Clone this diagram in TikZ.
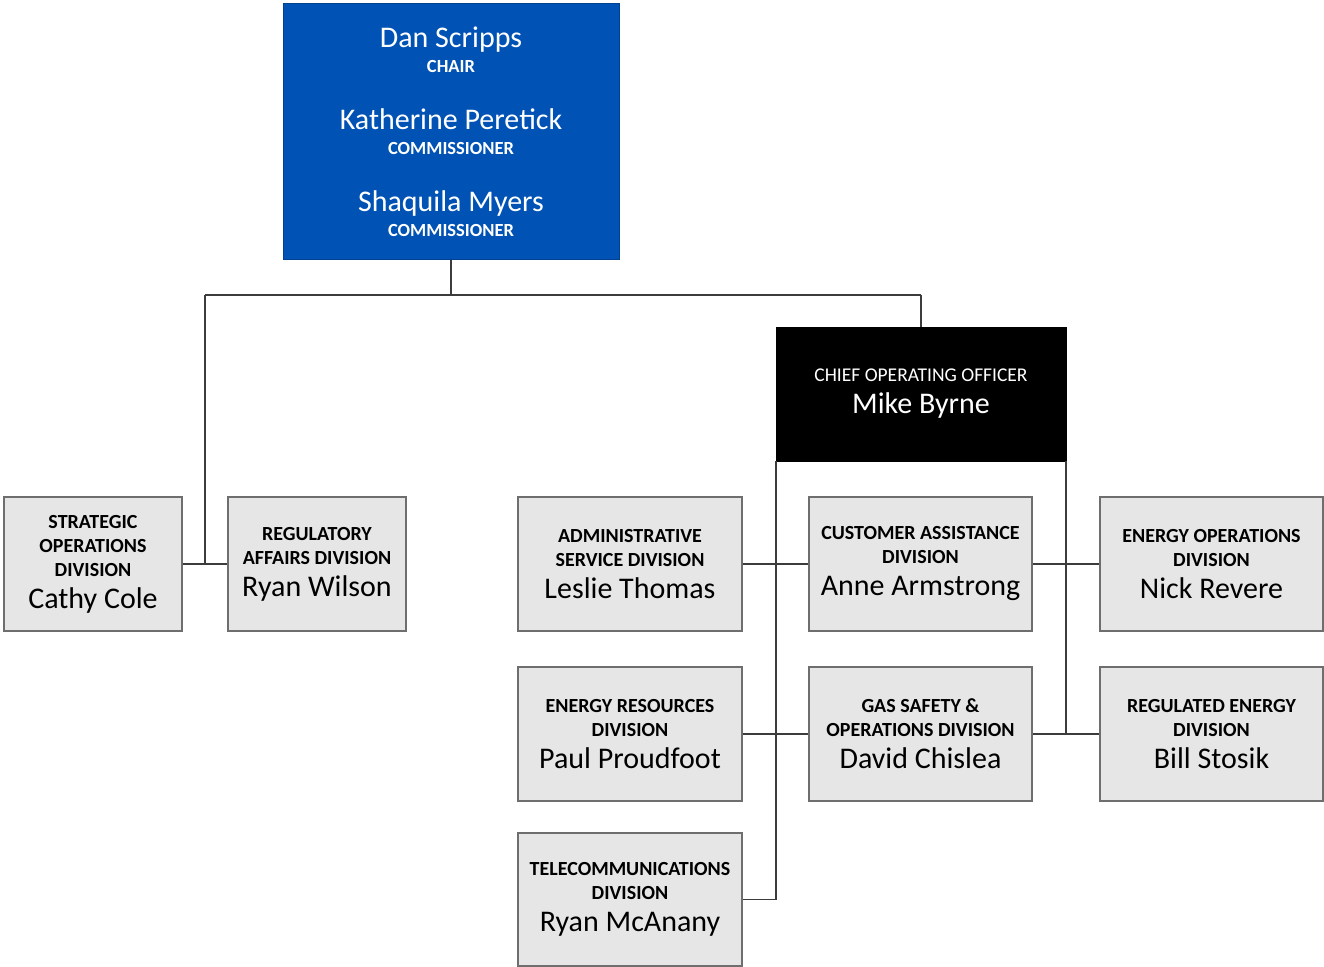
\documentclass[tikz,border=0pt]{standalone}
\usepackage{fontspec}
\setmainfont{Carlito}
\definecolor{cpucblue}{RGB}{0,82,180}
\definecolor{boxgray}{RGB}{230,230,230}
\definecolor{boxedge}{RGB}{110,110,110}
\definecolor{wire}{RGB}{60,60,60}
\newcommand{\nm}[1]{{\fontsize{30}{30}\selectfont\mdseries #1}}
\newcommand{\rl}[1]{{\fontsize{18.5}{18.5}\selectfont\bfseries #1}}
\begin{document}
\begin{tikzpicture}[x=1pt,y=-1pt,
  dept/.style={draw=boxedge, line width=1.5pt, fill=boxgray, inner sep=0pt,
    minimum height=134pt, align=center, text=black,
    font=\fontsize{20}{24}\selectfont\bfseries},
  board/.style={draw=cpucblue!80!black, line width=1pt, fill=cpucblue, inner sep=0pt,
    minimum width=336pt, minimum height=255pt, align=center, text=white,
    font=\fontsize{18}{25}\selectfont},
  coobox/.style={draw=black, fill=black, inner sep=0pt,
    minimum width=290pt, minimum height=134pt, align=center, text=white,
    font=\fontsize{19.5}{24}\selectfont},
  wirestyle/.style={draw=wire, line width=1.5pt}]
\useasboundingbox (0,0) rectangle (1324,966);

\node[board] (board) at (451,131.5) {\nm{Dan Scripps}\\\rl{CHAIR}\\[32pt]\nm{Katherine Peretick}\\\rl{COMMISSIONER}\\[32pt]\nm{Shaquila Myers}\\\rl{COMMISSIONER}};

\node[coobox] (coo) at (921,394) {CHIEF OPERATING OFFICER\\[8pt]\nm{Mike Byrne}};

\node[dept, minimum width=178pt] (strat) at (93,564) {STRATEGIC\\OPERATIONS\\DIVISION\\[8pt]\nm{Cathy Cole}};
\node[dept, minimum width=178pt] (reg) at (317,564) {REGULATORY\\AFFAIRS DIVISION\\[8pt]\nm{Ryan Wilson}};

\node[dept, minimum width=224pt] (admin) at (630,564) {ADMINISTRATIVE\\SERVICE DIVISION\\[8pt]\nm{Leslie Thomas}};
\node[dept, minimum width=223pt] (cust) at (920.5,564) {CUSTOMER ASSISTANCE\\DIVISION\\[8pt]\nm{Anne Armstrong}};
\node[dept, minimum width=223pt] (eops) at (1211.5,564) {ENERGY OPERATIONS\\DIVISION\\[8pt]\nm{Nick Revere}};

\node[dept, minimum width=224pt] (eres) at (630,734) {ENERGY RESOURCES\\DIVISION\\[8pt]\nm{Paul Proudfoot}};
\node[dept, minimum width=223pt] (gas) at (920.5,734) {GAS SAFETY \&\\OPERATIONS DIVISION\\[8pt]\nm{David Chislea}};
\node[dept, minimum width=223pt] (regen) at (1211.5,734) {REGULATED ENERGY\\DIVISION\\[8pt]\nm{Bill Stosik}};

\node[dept, minimum width=224pt, minimum height=133pt] (tele) at (630,899.5) {TELECOMMUNICATIONS\\DIVISION\\[8pt]\nm{Ryan McAnany}};

\coordinate (jl) at (205,295);
\coordinate (jm) at (451,295);
\coordinate (jr) at (921,295);

\draw[wirestyle] (board.south) -- (jm);
\draw[wirestyle] (jl) -- (jr);
\draw[wirestyle] (jl) -- (jl |- strat.east);
\draw[wirestyle] (jr) -- (coo.north);
\draw[wirestyle] (strat.east) -- (reg.west);
\draw[wirestyle] (coo.south west) -- (coo.south west |- tele.east) -- (tele.east);
\draw[wirestyle] (admin.east) -- (cust.west);
\draw[wirestyle] (eres.east) -- (gas.west);
\draw[wirestyle] (coo.south east) -- (coo.south east |- regen.west);
\draw[wirestyle] (cust.east) -- (eops.west);
\draw[wirestyle] (gas.east) -- (regen.west);
\end{tikzpicture}
\end{document}
